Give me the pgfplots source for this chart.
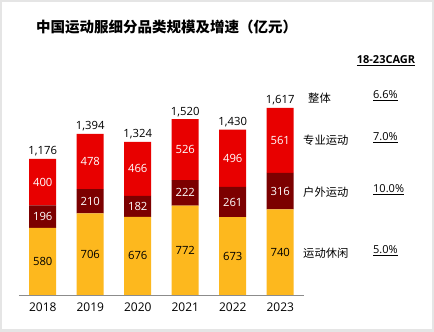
\documentclass[border=0pt]{standalone}
\usepackage{pgfplots}
\pgfplotsset{compat=1.18}
\usepackage{fontspec}
\setmainfont{Open Sans}
\newfontfamily\cjk{Noto Sans CJK SC}
\definecolor{cYel}{RGB}{253,184,30}
\definecolor{cDark}{RGB}{124,0,0}
\definecolor{cRed}{RGB}{232,0,0}
\pgfplotsset{
  base frame/.style={at={(19pt,37pt)}, anchor=south west, scale only axis,
    width=285pt, height=231.3pt,
    xmin=-0.5, xmax=5.5, ymin=0, ymax=2000,
    /pgf/number format/assume math mode=true, clip=false},
  mid lab/.style={only marks, mark=none, draw=none, nodes near coords, point meta=explicit,
    every node near coord/.append style={anchor=center, text=#1, font=\fontsize{11.3}{13}\selectfont}}
}
\begin{document}
\begin{tikzpicture}[x=1pt,y=1pt]
\useasboundingbox (0,0) rectangle (434,332);
\fill[black!10] (0,0) rectangle (434,332);
\fill[white] (2,3) rectangle (432,330);
\node[anchor=west, inner sep=0pt, font=\cjk\bfseries\fontsize{14.5}{16}\selectfont] at (36,305) {中国运动服细分品类规模及增速（亿元）};
\begin{axis}[base frame,
  ybar stacked, bar width=27pt,
  axis x line=bottom, axis y line=none,
  axis line style={-, draw=black!45, line width=0.8pt},
  xtick={0,1,2,3,4,5}, xticklabels={2018,2019,2020,2021,2022,2023},
  major tick length=0pt, ytick=\empty,
  xticklabel style={anchor=base, yshift=-17pt, font=\fontsize{12}{14}\selectfont},
]
% 运动休闲
\addplot[fill=cYel, draw=none] coordinates {(0,580)(1,706)(2,676)(3,772)(4,673)(5,740)};
% 户外运动
\addplot[fill=cDark, draw=none] coordinates {(0,196)(1,210)(2,182)(3,222)(4,261)(5,316)};
% 专业运动
\addplot[fill=cRed, draw=none] coordinates {(0,400)(1,478)(2,466)(3,526)(4,496)(5,561)};
\end{axis}
\begin{axis}[base frame, hide axis]
% labels at the middle of each segment
\addplot[mid lab=black] coordinates {(0,290)[580] (1,353)[706] (2,338)[676] (3,386)[772] (4,336.5)[673] (5,370)[740]};
\addplot[mid lab=white] coordinates {(0,678)[196] (1,811)[210] (2,767)[182] (3,883)[222] (4,803.5)[261] (5,898)[316]};
\addplot[mid lab=white] coordinates {(0,976)[400] (1,1155)[478] (2,1091)[466] (3,1257)[526] (4,1182)[496] (5,1336.5)[561]};
% totals
\addplot[only marks, mark=none, draw=none, nodes near coords, point meta=explicit,
  every node near coord/.append style={anchor=base, yshift=4pt, text=black, font=\fontsize{11.3}{13}\selectfont}]
  coordinates {(0,1176)[1176] (1,1394)[1394] (2,1324)[1324] (3,1520)[1520] (4,1430)[1430] (5,1617)[1617]};
\end{axis}
\node[font=\bfseries\fontsize{11}{13}\selectfont] at (386,271) {\underline{18-23CAGR}};
\node[anchor=west, inner sep=0pt, font=\cjk\fontsize{11.3}{13}\selectfont] at (308,234) {整体};
\node[anchor=west, inner sep=0pt, font=\cjk\fontsize{11.3}{13}\selectfont] at (303,192) {专业运动};
\node[anchor=west, inner sep=0pt, font=\cjk\fontsize{11.3}{13}\selectfont] at (303,140) {户外运动};
\node[anchor=west, inner sep=0pt, font=\cjk\fontsize{11.3}{13}\selectfont] at (303,79) {运动休闲};
\node[anchor=west, inner sep=0pt, font=\fontsize{11}{13}\selectfont] at (373,236) {\underline{6.6\%}};
\node[anchor=west, inner sep=0pt, font=\fontsize{11}{13}\selectfont] at (373,194) {\underline{7.0\%}};
\node[anchor=west, inner sep=0pt, font=\fontsize{11}{13}\selectfont] at (373,142) {\underline{10.0\%}};
\node[anchor=west, inner sep=0pt, font=\fontsize{11}{13}\selectfont] at (373,81) {\underline{5.0\%}};
\end{tikzpicture}
\end{document}
